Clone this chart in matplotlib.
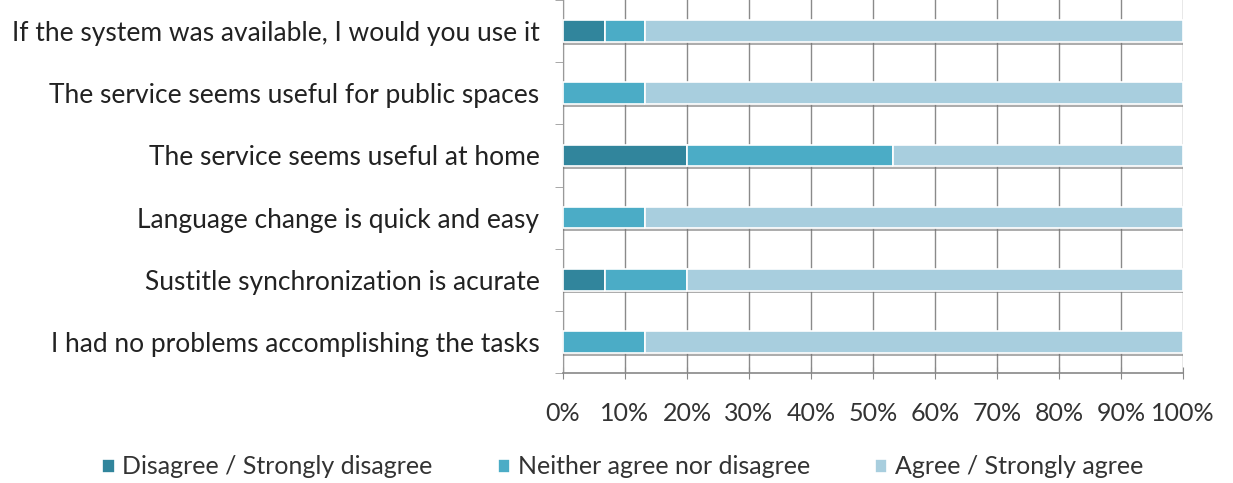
import matplotlib
matplotlib.use("Agg")
import matplotlib.pyplot as plt
import matplotlib.patheffects as pe
import numpy as np

categories = [
    "If the system was available, I would you use it",
    "The service seems useful for public spaces",
    "The service seems useful at home",
    "Language change is quick and easy",
    "Sustitle synchronization is acurate",
    "I had no problems accomplishing the tasks",
]
disagree = [6.7, 0.0, 20.0, 0.0, 6.7, 0.0]
neither = [6.6, 13.3, 33.3, 13.3, 13.3, 13.3]
agree = [86.7, 86.7, 46.7, 86.7, 80.0, 86.7]
series_names = ["Disagree / Strongly disagree", "Neither agree nor disagree", "Agree / Strongly agree"]
colors = ["#31859C", "#4BACC6", "#A8CEDE"]
xticks = [0, 10, 20, 30, 40, 50, 60, 70, 80, 90, 100]

plt.rcParams['font.family'] = ['Lato', 'DejaVu Sans']

fig = plt.figure(figsize=(12.33, 4.83), dpi=100)
ax = fig.add_axes([563/1233, 1 - 373/483, 620/1233, 373/483])

y = np.arange(len(categories))
h = 0.35
left = np.zeros(len(categories))
shadow = [pe.SimplePatchShadow(offset=(0, -2), shadow_rgbFace="#777777", alpha=0.6), pe.Normal()]
for vals, name, c in zip([disagree, neither, agree], series_names, colors):
    v = np.array(vals)
    bars = ax.barh(y, v, left=left, height=h, color=c, edgecolor="white", linewidth=1.2, label=name, zorder=3)
    for b in bars:
        b.set_path_effects(shadow)
    left += v

ax.set_xlim(0, 100)
ax.set_ylim(len(categories) - 0.5, -0.5)
ax.set_xticks(xticks)
ax.set_xticklabels([f"{t}%" for t in xticks], fontsize=18, color="#333333")
ax.tick_params(axis="x", length=8, color="#888888", pad=17, direction="inout")
ax.set_yticks(y)
ax.set_yticklabels(categories, fontsize=19, color="#222222")
ax.tick_params(axis="y", length=0, pad=17)
ax.set_yticks(np.arange(-0.5, len(categories), 1), minor=True)
ax.tick_params(axis="y", which="minor", length=6, color="#999999")
ax.xaxis.grid(True, color="#8a8a8a", linewidth=1.0, zorder=0)
ax.set_axisbelow(True)
for s in ["top", "right"]:
    ax.spines[s].set_visible(False)
ax.spines["left"].set_color("#999999")
ax.spines["bottom"].set_color("#888888")
ax.spines["bottom"].set_linewidth(1.2)

handles, labels = ax.get_legend_handles_labels()
leg = fig.legend(handles, labels, loc="center", bbox_to_anchor=(0.505, 1 - 467/483), ncol=3,
                 frameon=False, fontsize=18, handlelength=0.5, handleheight=0.5,
                 handletextpad=0.3, columnspacing=2.6)
for t in leg.get_texts():
    t.set_color("#333333")
for hnd in leg.legend_handles:
    hnd.set_path_effects([])

fig.savefig("out.png", dpi=100)
